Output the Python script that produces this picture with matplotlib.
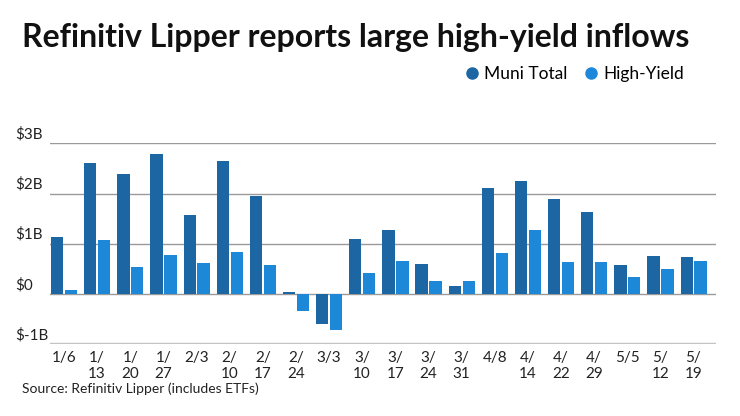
import matplotlib
matplotlib.use("Agg")
import matplotlib.pyplot as plt
import matplotlib.transforms as mtransforms
from matplotlib.lines import Line2D
import numpy as np

plt.rcParams["font.family"] = ["Lato", "DejaVu Sans"]

weeks = ["1/6", "1/\n13", "1/\n20", "1/\n27", "2/3", "2/\n10", "2/\n17", "2/\n24", "3/3", "3/\n10",
         "3/\n17", "3/\n24", "3/\n31", "4/8", "4/\n14", "4/\n22", "4/\n29", "5/5", "5/\n12", "5/\n19"]
muni_total = [1.14, 2.60, 2.39, 2.79, 1.58, 2.64, 1.95, 0.04, -0.60, 1.09,
              1.27, 0.60, 0.17, 2.12, 2.25, 1.89, 1.64, 0.58, 0.75, 0.73]
high_yield = [0.09, 1.07, 0.53, 0.78, 0.61, 0.83, 0.58, -0.33, -0.72, 0.42,
              0.66, 0.26, 0.25, 0.82, 1.28, 0.64, 0.63, 0.34, 0.49, 0.65]
y_ticks = [-1, 0, 1, 2, 3]
y_labels = ["$-1B", "$0", "$1B", "$2B", "$3B"]

dark = "#1c67a3"
light = "#1e88d8"

fig = plt.figure(figsize=(7.4, 4.16), dpi=100)
ax = fig.add_axes([50 / 740, 1 - 344.3 / 416, 666 / 740, 201 / 416])

x = np.arange(len(weeks))
w = 0.37
ax.bar(x - 0.205, muni_total, width=w, color=dark, zorder=3)
ax.bar(x + 0.215, high_yield, width=w, color=light, zorder=3)

ax.set_xlim(-0.42, 19.68)
ax.set_ylim(-1, 3)

# gridlines and bottom rule
for v in y_ticks[1:]:
    ax.axhline(v, color="#9a9a9a", lw=1, zorder=1)
ax.axhline(-1, color="#c4c4c4", lw=2.5, zorder=1)

for s in ax.spines.values():
    s.set_visible(False)

ax.set_yticks([])
ax.set_xticks(x)
ax.set_xticklabels(weeks, fontsize=11, color="#222222", linespacing=1.15)
ax.tick_params(axis="x", length=0, pad=5)

# y labels sit above their lines, flush left
trans = mtransforms.blended_transform_factory(fig.transFigure, ax.transData)
for v, lab in zip(y_ticks, y_labels):
    ax.text(15 / 740, v + 0.04, lab, transform=trans, ha="left", va="bottom",
            fontsize=11, color="#222222")

fig.text(22 / 740, 1 - 38 / 416, "Refinitiv Lipper reports large high-yield inflows",
         fontsize=23, fontweight="bold", color="#111111", va="center", ha="left")

handles = [
    Line2D([], [], marker="o", ls="", color=dark, markersize=8, label="Muni Total"),
    Line2D([], [], marker="o", ls="", color=light, markersize=8, label="High-Yield"),
]
fig.legend(handles=handles, loc="center right", bbox_to_anchor=(700 / 740, 1 - 74 / 416),
           ncol=2, frameon=False, fontsize=12.5, handletextpad=0.2, columnspacing=0.9,
           handlelength=1.0)

fig.text(22 / 740, 1 - 389 / 416, "Source: Refinitiv Lipper (includes ETFs)",
         fontsize=10, color="#222222", va="center", ha="left")

fig.savefig("out.png", dpi=100)
